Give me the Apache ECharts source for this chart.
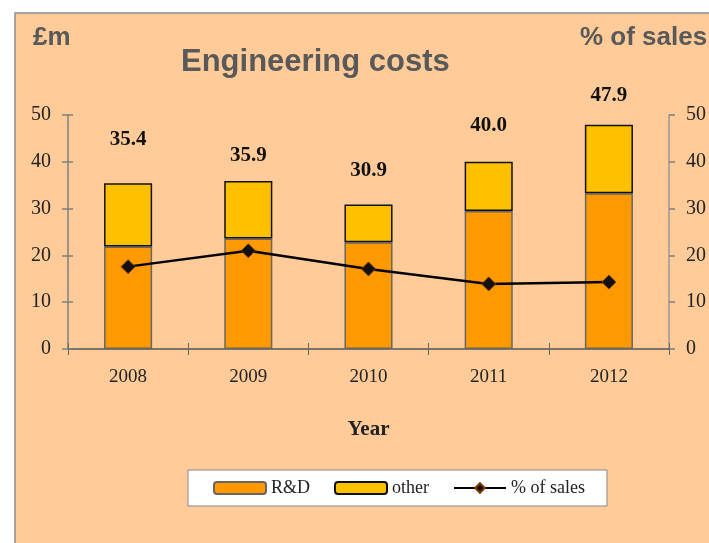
<!DOCTYPE html>
<html>
<head>
<meta charset="utf-8">
<script src="https://cdn.jsdelivr.net/npm/echarts@6/dist/echarts.min.js"></script>
<style>
  html, body { margin: 0; padding: 0; background: #fff; }
  #chart { width: 709px; height: 543px; }
</style>
</head>
<body>
<div id="chart"></div>
<script>
// values
const years = ['2008', '2009', '2010', '2011', '2012'];
const rdCosts = [21.9, 23.6, 22.8, 29.5, 33.3];
const otherCosts = [13.5, 12.3, 8.1, 10.5, 14.6];
const totals = [35.4, 35.9, 30.9, 40.0, 47.9];
const pctOfSales = [17.6, 21.0, 17.1, 13.9, 14.3];
const axisTicks = [0, 10, 20, 30, 40, 50];

// how far above each bar the total label sits (px)
const labelLift = [33, 15, 23, 26, 19];

const serif = '"Liberation Serif", "Times New Roman", serif';
const sans = '"Liberation Sans", Arial, sans-serif';

const chart = echarts.init(document.getElementById('chart'), null, { renderer: 'canvas' });

const valueAxis = (pos, extra) => Object.assign({
  type: 'value',
  position: pos,
  min: axisTicks[0],
  max: axisTicks[axisTicks.length - 1],
  interval: 10,
  splitLine: { show: false },
  axisLine: { show: true, lineStyle: { color: '#808080', width: 1.5 } },
  axisTick: { show: true, length: 6, lineStyle: { color: '#808080', width: 1.5 } },
  axisLabel: { color: '#222', fontFamily: serif, fontSize: 20, margin: 17 }
}, extra);

chart.setOption({
  animation: false,
  backgroundColor: '#fff',
  graphic: [
    {
      type: 'rect', z: -10,
      shape: { x: 15, y: 13, width: 720, height: 560 },
      style: { fill: '#FFCC99', stroke: '#8c8c8c', lineWidth: 1.5 }
    },
    {
      type: 'text', left: 33, top: 25,
      style: { text: '£m', fill: '#595959', font: 'bold 26px ' + sans }
    },
    {
      type: 'text', left: 580, top: 25,
      style: { text: '% of sales', fill: '#595959', font: 'bold 26px ' + sans }
    }
  ],
  title: {
    text: 'Engineering costs',
    left: 176, top: 42,
    textStyle: { color: '#595959', fontFamily: sans, fontWeight: 'bold', fontSize: 31 }
  },
  legend: {
    left: 188, top: 470,
    padding: [9, 22, 9, 25],
    backgroundColor: '#fff',
    borderColor: '#888',
    borderWidth: 1,
    itemWidth: 52, itemHeight: 12,
    itemGap: 24,
    textStyle: { color: '#222', fontFamily: serif, fontSize: 18 },
    data: ['R&D', 'other', '% of sales']
  },
  grid: { left: 68, right: 38, top: 115, bottom: 194 },
  xAxis: [
    {
      type: 'category',
      data: years,
      name: 'Year',
      nameLocation: 'middle',
      nameGap: 70,
      nameTextStyle: { color: '#222', fontFamily: serif, fontWeight: 'bold', fontSize: 21 },
      axisLine: { lineStyle: { color: '#555', width: 1.5 } },
      axisTick: { show: true, length: 6, lineStyle: { color: '#666', width: 1 } },
      axisLabel: { color: '#222', fontFamily: serif, fontSize: 19, margin: 19 }
    },
    {
      type: 'category', data: years, position: 'bottom',
      axisLine: { show: false },
      axisTick: { show: true, inside: true, length: 6, lineStyle: { color: '#666', width: 1 } },
      axisLabel: { show: false }
    }
  ],
  yAxis: [
    valueAxis('left'),
    valueAxis('right', { axisLine: { show: true, lineStyle: { color: '#999', width: 1.5 } } }),
    valueAxis('left', {
      axisLine: { show: false },
      axisTick: { show: true, inside: true, length: 5, lineStyle: { color: '#808080', width: 1.5 } },
      axisLabel: { show: false }
    })
  ],
  series: [
    {
      name: 'R&D', type: 'bar', stack: 'cost',
      data: rdCosts,
      barWidth: '40%',
      itemStyle: { color: '#FF9900', borderColor: '#666', borderWidth: 1.5 }
    },
    {
      name: 'other', type: 'bar', stack: 'cost',
      data: otherCosts.map((v, i) => ({
        value: v,
        label: { show: true, position: 'top', distance: labelLift[i], formatter: totals[i].toFixed(1) }
      })),
      itemStyle: { color: '#FFC000', borderColor: '#111', borderWidth: 1.5 },
      label: { color: '#111', fontFamily: serif, fontWeight: 'bold', fontSize: 21 }
    },
    {
      name: '% of sales', type: 'line', yAxisIndex: 1,
      data: pctOfSales,
      symbol: 'diamond', symbolSize: 14,
      lineStyle: { color: '#000', width: 2.5 },
      itemStyle: { color: '#111', borderColor: '#7a3a00', borderWidth: 1 },
      z: 5
    }
  ]
});
</script>
</body>
</html>
